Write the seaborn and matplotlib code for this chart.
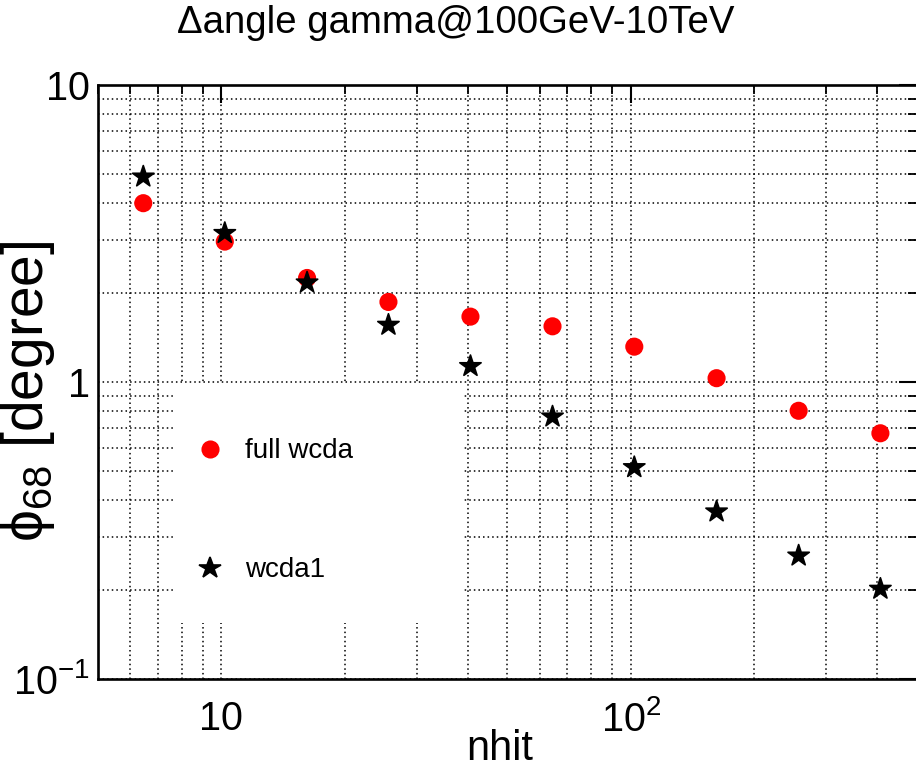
import matplotlib
matplotlib.use("Agg")
import numpy as np
import pandas as pd
import seaborn as sns
import matplotlib.pyplot as plt
from matplotlib.ticker import LogLocator, NullFormatter, FixedLocator, FixedFormatter
from matplotlib.patches import Rectangle
from matplotlib.lines import Line2D

# ---- data ----
nhit = [6.45, 10.2, 16.2, 25.6, 40.6, 64.4, 102, 162, 257, 407]
full_wcda = [4.0, 2.97, 2.24, 1.86, 1.66, 1.54, 1.315, 1.03, 0.80, 0.672]
wcda1 = [4.91, 3.17, 2.16, 1.556, 1.13, 0.764, 0.516, 0.366, 0.26, 0.201]
series_names = ["full wcda", "wcda1"]
title_text = "\u0394angle gamma@100GeV-10TeV"
x_label = "nhit"
y_label = "\u03d5$_{68}$ [degree]"
x_ticks = [10, 100]
x_tick_labels = ["10", r"$10^{2}$"]
y_ticks = [0.1, 1, 10]
y_tick_labels = [r"$10^{-1}$", "1", "10"]

sns.set_theme(style="white")
plt.rcParams["font.family"] = ["Liberation Sans", "DejaVu Sans"]
plt.rcParams["mathtext.fontset"] = "custom"
plt.rcParams["mathtext.rm"] = "Liberation Sans"
plt.rcParams["mathtext.it"] = "Liberation Sans:italic"
plt.rcParams["mathtext.bf"] = "Liberation Sans:bold"
for k in ["text.color", "axes.labelcolor", "xtick.color", "ytick.color", "axes.edgecolor"]:
    plt.rcParams[k] = "black"

df = pd.DataFrame({
    "nhit": nhit + nhit,
    "phi68": full_wcda + wcda1,
    "det": [series_names[0]] * len(nhit) + [series_names[1]] * len(nhit),
})

W, H = 916, 776
fig = plt.figure(figsize=(W / 100, H / 100), dpi=100)
ax = fig.add_axes([98 / W, 97 / H, 819 / W, 594 / H])

colors = {series_names[0]: "#ff0000", series_names[1]: "black"}
markers = {series_names[0]: "o", series_names[1]: "*"}
sizes = {series_names[0]: 140, series_names[1]: 260}

sns.scatterplot(data=df, x="nhit", y="phi68", hue="det", style="det", size="det",
                palette=colors, markers=markers, sizes=sizes, linewidth=1.2,
                edgecolor="face", ax=ax, zorder=3, legend=False)

ax.set_xscale("log")
ax.set_yscale("log")
ax.set_xlim(5, 500)
ax.set_ylim(0.1, 10)

ax.xaxis.set_major_locator(FixedLocator(x_ticks))
ax.xaxis.set_major_formatter(FixedFormatter(x_tick_labels))
ax.xaxis.set_minor_locator(LogLocator(base=10, subs=np.arange(2, 10)))
ax.xaxis.set_minor_formatter(NullFormatter())
ax.yaxis.set_major_locator(FixedLocator(y_ticks))
ax.yaxis.set_major_formatter(FixedFormatter(y_tick_labels))
ax.yaxis.set_minor_locator(LogLocator(base=10, subs=np.arange(2, 10)))
ax.yaxis.set_minor_formatter(NullFormatter())

ax.set_axisbelow(True)
ax.grid(True, which="both", color="black", linewidth=1.1, linestyle=(0, (1, 2)))

for sp in ax.spines.values():
    sp.set_linewidth(1.9)
    sp.set_color("black")

ax.tick_params(which="both", direction="in", top=True, right=True, colors="black")
ax.tick_params(which="major", length=13, width=1.5, labelsize=28.5)
ax.tick_params(which="minor", length=6.5, width=1.3)
ax.tick_params(axis="x", which="major", pad=15)
ax.tick_params(axis="y", which="major", pad=6)

ax.set_xlabel(x_label, fontsize=30)
ax.xaxis.set_label_coords(0.49, -0.118)
ax.xaxis.label.set_va("center")
ax.set_ylabel(y_label, fontsize=41)
ax.yaxis.set_label_coords(-0.085, 0.485)
ax.yaxis.label.set_va("center")

fig.text(456 / W, 1 - 23 / H, title_text, ha="center", va="center", fontsize=27.6)

# white legend box
ax.add_patch(Rectangle((0.0928, 0.0943), 0.354, 0.404, transform=ax.transAxes,
                       facecolor="white", edgecolor="none", zorder=1))
handles = [Line2D([], [], linestyle="none", marker=markers[n], color=colors[n],
                  markersize=np.sqrt(sizes[n]), markeredgewidth=1.2) for n in series_names]
ax.legend(handles, series_names, loc="upper left", bbox_to_anchor=(0.1197, 0.405),
          frameon=False, fontsize=20, borderpad=0, handlelength=1.0,
          handletextpad=0.76, labelspacing=3.35, borderaxespad=0)

fig.savefig("out.png", dpi=100)
